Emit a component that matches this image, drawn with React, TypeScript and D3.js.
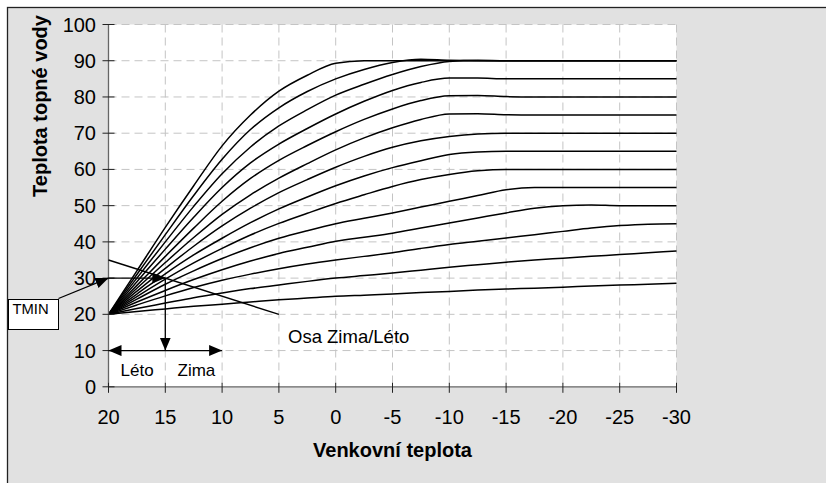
import React from 'react';
import * as d3 from 'd3';

// outdoor temperature samples (x) shared by all heating curves
const outdoorTemps = [20, 17.5, 15, 12.5, 10, 7.5, 5, 2.5, 0, -2.5, -5, -7.5, -10, -12.5, -15, -17.5, -20, -22.5, -25, -27.5, -30];

// water temperature of each heating curve, steepest first
const curve1 = [20, 32, 44, 55.5, 66.5, 75, 81.6, 86, 89.3, 90, 90, 90, 90, 90, 90, 90, 90, 90, 90, 90, 90];
const curve2 = [20, 31, 42, 52.8, 62.8, 71, 77, 81.5, 85, 87.6, 89.5, 90.4, 90.1, 90, 90, 90, 90, 90, 90, 90, 90];
const curve3 = [20, 30, 40, 49.8, 58.8, 66.2, 72, 76.5, 80.5, 83.5, 86.2, 88.4, 89.8, 90.1, 90, 90, 90, 90, 90, 90, 90];
const curve4 = [20, 29, 38, 46.8, 55, 61.8, 67, 71.3, 75.3, 78.8, 81.8, 84, 85.2, 85.2, 85, 85, 85, 85, 85, 85, 85];
const curve5 = [20, 28, 36, 43.8, 51.2, 57.5, 62.5, 66.6, 70.4, 73.8, 76.7, 79, 80.3, 80.4, 80.1, 80, 80, 80, 80, 80, 80];
const curve6 = [20, 27.2, 34.3, 41.2, 47.6, 53, 57.6, 61.6, 65.4, 68.7, 71.5, 73.8, 75.3, 75.4, 75.1, 75, 75, 75, 75, 75, 75];
const curve7 = [20, 26.4, 32.7, 38.8, 44.4, 49.3, 53.6, 57.2, 60.6, 63.6, 66.1, 67.9, 69.1, 69.8, 70, 70, 70, 70, 70, 70, 70];
const curve8 = [20, 25.6, 31.2, 36.4, 41, 45.3, 49.1, 52.4, 55.5, 58.2, 60.5, 62.4, 64.1, 64.8, 65, 65, 65, 65, 65, 65, 65];
const curve9 = [20, 24.9, 29.7, 34.2, 38.2, 41.9, 45.1, 47.9, 50.6, 53, 55.3, 57.2, 58.6, 59.6, 60, 60, 60, 60, 60, 60, 60];
const curve10 = [20, 24.2, 28.3, 32, 35.4, 38.4, 41, 43.1, 45, 46.5, 48, 49.6, 51.2, 52.8, 54.4, 55, 55, 55, 55, 55, 55];
const curve11 = [20, 23.4, 26.6, 29.6, 32.3, 34.7, 36.8, 38.5, 40.2, 41.3, 42.4, 43.8, 45.2, 46.6, 48, 49.3, 50, 50.2, 50, 50, 50];
const curve12 = [20, 22.6, 25.1, 27.4, 29.4, 31.1, 32.6, 33.9, 35, 36, 37, 38.2, 39.3, 40.2, 41.1, 42, 42.9, 43.8, 44.5, 44.9, 45];
const curve13 = [20, 21.6, 23.1, 24.6, 25.9, 27.1, 28.1, 29.1, 30, 30.7, 31.4, 32.2, 33, 33.7, 34.4, 35, 35.5, 36, 36.5, 37, 37.5];
const curve14 = [20, 20.8, 21.5, 22.2, 22.8, 23.4, 24, 24.5, 25, 25.3, 25.6, 26, 26.3, 26.7, 27, 27.2, 27.5, 27.8, 28.1, 28.3, 28.6];

const curves = [curve1, curve2, curve3, curve4, curve5, curve6, curve7, curve8, curve9, curve10, curve11, curve12, curve13, curve14];

const xTicks = [20, 15, 10, 5, 0, -5, -10, -15, -20, -25, -30];
const yTicks = [0, 10, 20, 30, 40, 50, 60, 70, 80, 90, 100];

// annotation anchors in data units [outdoor, water]
const osaLine = [[20, 35], [5, 20]];
const tminPoint = [20, 30];
const tminTarget = [15, 30];
const seasonArrowEnd = [15, 10];
const seasonSpan = [[20, 10], [10, 10]];

const W = 826;
const H = 483;
const font = 'Liberation Sans, Arial, sans-serif';

const App = () => {
  const x = d3.scaleLinear().domain([20, -30]).range([108.5, 676.5]);
  const y = d3.scaleLinear().domain([0, 100]).range([386.8, 24.5]);

  const line = d3
    .line<number>()
    .x((_, i) => x(outdoorTemps[i]))
    .y((d) => y(d))
    .curve(d3.curveMonotoneX);

  const x0 = x(20);
  const x1 = x(-30);
  const y0 = y(0);
  const y1 = y(100);

  return (
    <svg
      width={W}
      height={H}
      viewBox={`0 0 ${W} ${H}`}
      style={{ position: 'absolute', left: 0, top: 0, display: 'block', background: '#fff' }}
    >
      <defs>
        <marker
          id="arrow"
          markerUnits="userSpaceOnUse"
          markerWidth={14}
          markerHeight={12}
          refX={13}
          refY={5.5}
          orient="auto-start-reverse"
        >
          <path d="M0,0 L13,5.5 L0,11 Z" fill="#000" />
        </marker>
      </defs>

      {/* chart frame */}
      <rect x={7.5} y={7.5} width={W + 10} height={H + 10} fill="#e1e1e1" stroke="#222" strokeWidth={1.3} />
      <rect x={x0} y={y1} width={x1 - x0} height={y0 - y1} fill="#fff" />

      {/* grid */}
      <g stroke="#c4c4c4" strokeWidth={1} strokeDasharray="8,5">
        {xTicks.filter((t) => t !== 20).map((t) => (
          <line key={`gx${t}`} x1={x(t)} x2={x(t)} y1={y1} y2={y0} />
        ))}
        {yTicks.filter((t) => t !== 0).map((t) => (
          <line key={`gy${t}`} x1={x0} x2={x1} y1={y(t)} y2={y(t)} />
        ))}
      </g>

      {/* heating curves */}
      <g fill="none" stroke="#000" strokeWidth={1.5}>
        {curves.map((c, i) => (
          <path key={i} d={line(c) || ''} />
        ))}
      </g>

      {/* axes */}
      <g stroke="#666" strokeWidth={1.3}>
        <line x1={x0} x2={x0} y1={y1} y2={y0} />
        <line x1={x0} x2={x1} y1={y0} y2={y0} />
      </g>
      <g stroke="#222" strokeWidth={1}>
        {yTicks.map((t) => (
          <line key={`ty${t}`} x1={x0 - 6} x2={x0 + 6} y1={y(t)} y2={y(t)} />
        ))}
        {xTicks.map((t) => (
          <line key={`tx${t}`} x1={x(t)} x2={x(t)} y1={y0 - 4} y2={y0 + 6} />
        ))}
      </g>
      <g fontFamily={font} fontSize={20} fill="#000">
        {yTicks.map((t) => (
          <text key={`ly${t}`} x={96} y={y(t) + 7} textAnchor="end">
            {t}
          </text>
        ))}
        {xTicks.map((t) => (
          <text key={`lx${t}`} x={x(t)} y={424} textAnchor="middle">
            {t}
          </text>
        ))}
      </g>
      <text x={(x0 + x1) / 2} y={457} textAnchor="middle" fontFamily={font} fontSize={20} fontWeight="bold">
        Venkovní teplota
      </text>
      <text
        transform="translate(46.5,106) rotate(-90)"
        textAnchor="middle"
        fontFamily={font}
        fontSize={20}
        fontWeight="bold"
      >
        Teplota topné vody
      </text>

      {/* Osa Zima/Leto */}
      <line
        x1={x(osaLine[0][0])}
        y1={y(osaLine[0][1])}
        x2={x(osaLine[1][0])}
        y2={y(osaLine[1][1])}
        stroke="#000"
        strokeWidth={1.4}
      />
      <text x={288} y={343} fontFamily={font} fontSize={18.5}>
        Osa Zima/Léto
      </text>

      {/* TMIN */}
      <rect x={8.5} y={299.5} width={50} height={30} fill="#fff" stroke="#000" strokeWidth={1} />
      <text x={12.5} y={314} fontFamily={font} fontSize={14.8}>
        TMIN
      </text>
      <g stroke="#000" strokeWidth={1.3} fill="none">
        <line x1={58.5} y1={298.5} x2={x(tminPoint[0])} y2={y(tminPoint[1])} markerEnd="url(#arrow)" />
        <line x1={x(tminPoint[0])} y1={y(tminPoint[1])} x2={x(tminTarget[0])} y2={y(tminTarget[1])} markerEnd="url(#arrow)" />
        <line
          x1={x(tminTarget[0])}
          y1={y(tminTarget[1])}
          x2={x(seasonArrowEnd[0])}
          y2={y(seasonArrowEnd[1])}
          markerEnd="url(#arrow)"
        />
        <line
          x1={x(seasonSpan[0][0])}
          y1={y(seasonSpan[0][1])}
          x2={x(seasonSpan[1][0])}
          y2={y(seasonSpan[1][1])}
          markerStart="url(#arrow)"
          markerEnd="url(#arrow)"
        />
      </g>
      <g fontFamily={font} fontSize={17}>
        <text x={120.5} y={376}>Léto</text>
        <text x={177.5} y={376}>Zima</text>
      </g>
    </svg>
  );
};

export default App;
